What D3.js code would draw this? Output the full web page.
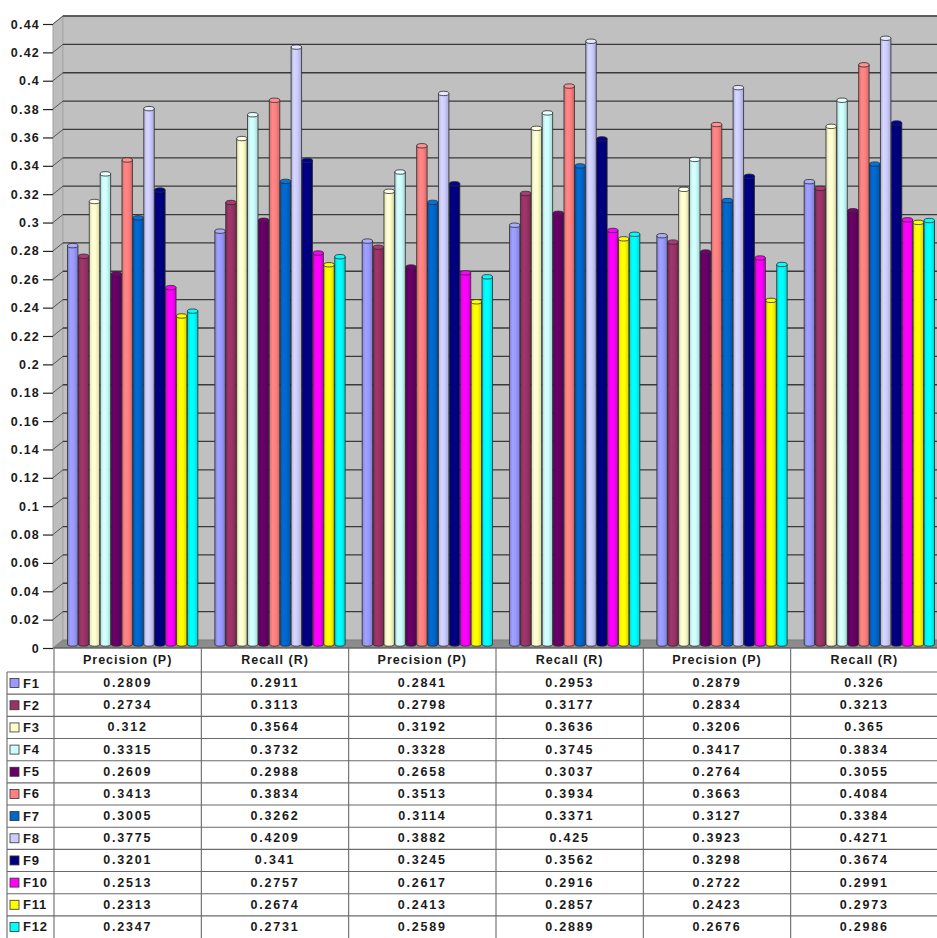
<!DOCTYPE html>
<html>
<head>
<meta charset="utf-8">
<script src="https://cdn.jsdelivr.net/npm/d3@7/dist/d3.min.js"></script>
<style>
  html, body { margin: 0; padding: 0; background: #fff; }
  svg { display: block; font-family: "Liberation Sans", Arial, sans-serif; }
</style>
</head>
<body>
<svg id="chart" width="937" height="938"></svg>
<script>
// Column headers of the data table (one per group of bars)
const categories = ["Precision (P)", "Recall (R)", "Precision (P)", "Recall (R)", "Precision (P)", "Recall (R)"];
const seriesNames = ["F1", "F2", "F3", "F4", "F5", "F6", "F7", "F8", "F9", "F10", "F11", "F12"];
const seriesColors = ["#9999FF", "#993366", "#FFFFCC", "#CCFFFF", "#660066", "#FF8080",
                      "#0066CC", "#CCCCFF", "#000080", "#FF00FF", "#FFFF00", "#00FFFF"];

// One array per feature set, six values each
const F1  = [0.2809, 0.2911, 0.2841, 0.2953, 0.2879, 0.326];
const F2  = [0.2734, 0.3113, 0.2798, 0.3177, 0.2834, 0.3213];
const F3  = [0.312,  0.3564, 0.3192, 0.3636, 0.3206, 0.365];
const F4  = [0.3315, 0.3732, 0.3328, 0.3745, 0.3417, 0.3834];
const F5  = [0.2609, 0.2988, 0.2658, 0.3037, 0.2764, 0.3055];
const F6  = [0.3413, 0.3834, 0.3513, 0.3934, 0.3663, 0.4084];
const F7  = [0.3005, 0.3262, 0.3114, 0.3371, 0.3127, 0.3384];
const F8  = [0.3775, 0.4209, 0.3882, 0.425,  0.3923, 0.4271];
const F9  = [0.3201, 0.341,  0.3245, 0.3562, 0.3298, 0.3674];
const F10 = [0.2513, 0.2757, 0.2617, 0.2916, 0.2722, 0.2991];
const F11 = [0.2313, 0.2674, 0.2413, 0.2857, 0.2423, 0.2973];
const F12 = [0.2347, 0.2731, 0.2589, 0.2889, 0.2676, 0.2986];

const yTicks = [0, 0.02, 0.04, 0.06, 0.08, 0.1, 0.12, 0.14, 0.16, 0.18, 0.2, 0.22,
                0.24, 0.26, 0.28, 0.3, 0.32, 0.34, 0.36, 0.38, 0.4, 0.42, 0.44];

const seriesValues = [F1, F2, F3, F4, F5, F6, F7, F8, F9, F10, F11, F12];
const series = seriesNames.map((name, i) => ({ name, color: seriesColors[i], values: seriesValues[i] }));

const svg = d3.select("#chart");
const W = 937, H = 938;

// layout
const plotLeft = 53, plotRight = 937;
const tableLeft = 54, tableOuterLeft = 7;
const depthX = 10, depthY = -8;          // back wall offset of the 3D box
const barDX = depthX / 2, barDY = depthY / 2;  // bars sit mid-depth
const headerTop = 648, headerH = 24, rowH = 22.17;

const y = d3.scaleLinear().domain([0, 0.44]).range([648, 24]);
const x = d3.scaleBand().domain(d3.range(categories.length)).range([tableLeft, 938]);
const inner = d3.scaleBand().domain(seriesNames)
  .range([8.5, x.bandwidth() - 8.5]).paddingInner(0.04);

// ---- 3D walls ----
const wallTop = y(0.44) + depthY, wallBottom = y(0) + depthY;
const walls = svg.append("g");
// side wall
walls.append("path")
  .attr("d", `M${plotLeft},${y(0)} L${plotLeft},${y(0.44)} L${plotLeft + depthX},${wallTop} L${plotLeft + depthX},${wallBottom} Z`)
  .attr("fill", "#bdbdbd").attr("stroke", "#a0a0a0").attr("stroke-width", 1);
// back wall
walls.append("rect")
  .attr("x", plotLeft + depthX).attr("y", wallTop)
  .attr("width", plotRight - plotLeft - depthX + 2).attr("height", wallBottom - wallTop)
  .attr("fill", "#c0c0c0").attr("stroke", "#a8a8a8").attr("stroke-width", 1);
// floor
walls.append("path")
  .attr("d", `M${plotLeft},${y(0)} L${plotLeft + depthX},${wallBottom} L${plotRight + 2},${wallBottom} L${plotRight + 2},${y(0)} Z`)
  .attr("fill", "#8c8c8c").attr("stroke", "#7a7a7a").attr("stroke-width", 0.8);

// gridlines on back and side walls
const grid = svg.append("g");
yTicks.filter(t => t > 0).forEach(t => {
  const yy = y(t);
  grid.append("line")
    .attr("x1", plotLeft + depthX).attr("x2", plotRight + 2)
    .attr("y1", yy + depthY).attr("y2", yy + depthY)
    .attr("stroke", "#3a3a3a").attr("stroke-width", 1.3);
  grid.append("line")
    .attr("x1", plotLeft).attr("y1", yy)
    .attr("x2", plotLeft + depthX).attr("y2", yy + depthY)
    .attr("stroke", "#555").attr("stroke-width", 1);
});

// ---- y axis ----
const yAxis = d3.axisLeft(y).tickValues(yTicks).tickSize(10).tickPadding(3)
  .tickFormat(d => String(+d.toFixed(2)));
const ag = svg.append("g").attr("transform", `translate(${plotLeft},0)`).call(yAxis);
ag.select(".domain").remove();
ag.selectAll(".tick line").attr("stroke", "#222").attr("stroke-width", 1.2);
ag.selectAll(".tick text")
  .attr("fill", "#1a1a1a").style("font-size", "12.5px").style("font-weight", "bold")
  .style("letter-spacing", "1.2px");

// ---- cylinders ----
const defs = svg.append("defs");
series.forEach((s, i) => {
  const c = d3.color(s.color);
  const g = defs.append("linearGradient").attr("id", "cyl" + i)
    .attr("x1", "0%").attr("x2", "100%").attr("y1", "0%").attr("y2", "0%");
  g.append("stop").attr("offset", "0%").attr("stop-color", c.darker(0.45));
  g.append("stop").attr("offset", "30%").attr("stop-color", c.brighter(0.15));
  g.append("stop").attr("offset", "60%").attr("stop-color", c);
  g.append("stop").attr("offset", "100%").attr("stop-color", c.darker(0.55));
});

const bars = svg.append("g");
const ry = 2.2;
categories.forEach((cat, ci) => {
  series.forEach((s, si) => {
    const bx = x(ci) + barDX + inner(s.name);
    const bw = inner.bandwidth();
    const rx = bw / 2;
    const top = y(s.values[ci]) + barDY;
    const base = y(0) + barDY;
    const c = d3.color(s.color);
    bars.append("path")
      .attr("d", `M${bx},${top} L${bx},${base} A${rx},${ry} 0 0 0 ${bx + bw},${base} L${bx + bw},${top} Z`)
      .attr("fill", `url(#cyl${si})`)
      .attr("stroke", "#2a2a2a").attr("stroke-width", 0.8);
    bars.append("ellipse")
      .attr("cx", bx + rx).attr("cy", top).attr("rx", rx).attr("ry", ry)
      .attr("fill", c.brighter(0.35))
      .attr("stroke", "#2a2a2a").attr("stroke-width", 0.8);
  });
});

// ---- data table ----
const table = svg.append("g");
const lineColor = "#6a6a6a";
const rowTop = i => headerTop + headerH + i * rowH;

// horizontal rules
for (let i = 0; i < series.length; i++) {
  table.append("line")
    .attr("x1", tableOuterLeft).attr("x2", W)
    .attr("y1", rowTop(i)).attr("y2", rowTop(i))
    .attr("stroke", lineColor).attr("stroke-width", 1.1);
}
// top edge of header
table.append("line")
  .attr("x1", tableLeft).attr("x2", W).attr("y1", headerTop).attr("y2", headerTop)
  .attr("stroke", "#555").attr("stroke-width", 1.2);
// vertical rules
table.append("line")
  .attr("x1", tableOuterLeft).attr("x2", tableOuterLeft)
  .attr("y1", rowTop(0)).attr("y2", H)
  .attr("stroke", lineColor).attr("stroke-width", 1.1);
categories.forEach((c, ci) => {
  table.append("line")
    .attr("x1", x(ci)).attr("x2", x(ci))
    .attr("y1", headerTop).attr("y2", H)
    .attr("stroke", lineColor).attr("stroke-width", 1.1);
});

// header labels
table.selectAll("text.hdr").data(categories).join("text")
  .attr("class", "hdr")
  .attr("x", (d, i) => x(i) + x.bandwidth() / 2)
  .attr("y", headerTop + headerH / 2)
  .attr("text-anchor", "middle").attr("dominant-baseline", "central")
  .attr("fill", "#1a1a1a")
  .style("font-size", "12.5px").style("font-weight", "bold").style("letter-spacing", "1px")
  .text(d => d);

// rows: legend key, series label, values
series.forEach((s, si) => {
  const cy = rowTop(si) + rowH / 2;
  table.append("rect")
    .attr("x", 10).attr("y", cy - 4.5).attr("width", 9).attr("height", 9)
    .attr("fill", s.color).attr("stroke", "#333").attr("stroke-width", 0.8);
  table.append("text")
    .attr("x", 23).attr("y", cy)
    .attr("dominant-baseline", "central").attr("fill", "#1a1a1a")
    .style("font-size", "13px").style("font-weight", "bold").style("letter-spacing", "0.8px")
    .text(s.name);
  s.values.forEach((v, ci) => {
    table.append("text")
      .attr("x", x(ci) + x.bandwidth() / 2).attr("y", cy)
      .attr("text-anchor", "middle").attr("dominant-baseline", "central")
      .attr("fill", "#1a1a1a")
      .style("font-size", "12.5px").style("font-weight", "bold").style("letter-spacing", "1.8px")
      .text(String(v));
  });
});
</script>
</body>
</html>
